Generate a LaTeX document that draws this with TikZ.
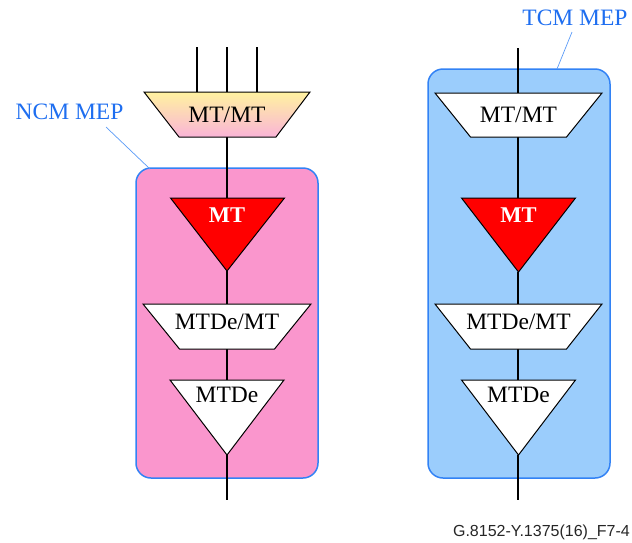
\documentclass[tikz,border=0pt]{standalone}
\usepackage{fontspec}
\setmainfont{Liberation Serif}
\newfontfamily\capfont{Liberation Sans}
\definecolor{boxblue}{RGB}{50,130,245}
\definecolor{txtblue}{RGB}{30,110,240}
\definecolor{pinkfill}{RGB}{250,150,205}
\definecolor{bluefill}{RGB}{155,205,252}
\definecolor{gradtop}{RGB}{255,242,160}
\definecolor{gradbot}{RGB}{250,180,215}
\begin{document}
\begin{tikzpicture}[x=1pt,y=-1pt,
  mepbox/.style={draw=boxblue,line width=1.5pt,rounded corners=15pt},
  fshape/.style={draw=black,line width=1pt,line join=miter},
  wire/.style={draw=black,line width=1.1pt},
  lbl/.style={inner sep=0pt,font=\fontsize{23.5}{26}\selectfont},
  blbl/.style={inner sep=0pt,text=white,font=\fontsize{22.5}{26}\selectfont\bfseries},
  meplbl/.style={inner sep=0pt,text=txtblue,font=\fontsize{23.5}{26}\selectfont},
  leader/.style={draw=boxblue!80,line width=0.7pt}]
\useasboundingbox (0,0) rectangle (632,542);
% boxes
\path[mepbox,fill=pinkfill] (136,168) rectangle (318,478);
\path[mepbox,fill=bluefill] (428,69) rectangle (610,478);
% labels
\node[meplbl] (ncm) at (69.5,112) {NCM MEP};
\node[meplbl] (tcm) at (575,18) {TCM MEP};
\coordinate (ncmA) at (106,127);
\coordinate (ncmB) at (150,169);
\coordinate (tcmA) at (572,32);
\coordinate (tcmB) at (557,69);
\draw[leader] (ncmA) -- (ncmB);
\draw[leader] (tcmA) -- (tcmB);
% left column coordinates
\coordinate (lin1) at (197,47);
\coordinate (lin2) at (227,47);
\coordinate (lin3) at (257,47);
\coordinate (lt1t1) at (197,92);
\coordinate (lt1t2) at (227,92);
\coordinate (lt1t3) at (257,92);
\coordinate (lt1b) at (227,137);
\coordinate (lmtt) at (227,198);
\coordinate (lmtb) at (227,271);
\coordinate (lt2t) at (227,304);
\coordinate (lt2b) at (227,349);
\coordinate (ldet) at (227,380);
\coordinate (ldeb) at (227,455);
\coordinate (lout) at (227,500);
\draw[wire] (lin1) -- (lt1t1);
\draw[wire] (lin2) -- (lt1t2);
\draw[wire] (lin3) -- (lt1t3);
\draw[wire] (lt1b) -- (lmtt);
\draw[wire] (lmtb) -- (lt2t);
\draw[wire] (lt2b) -- (ldet);
\draw[wire] (ldeb) -- (lout);
% left shapes
\path[fshape,top color=gradtop,bottom color=gradbot] (144,92) -- (310,92) -- (276,137) -- (179,137) -- cycle;
\path[fshape,fill=red] (170.5,198) -- (284.5,198) -- (227,271) -- cycle;
\path[fshape,fill=white] (143,304) -- (311,304) -- (274.5,349) -- (179.5,349) -- cycle;
\path[fshape,fill=white] (170,380) -- (284,380) -- (227,455) -- cycle;
\node[lbl] (lmtmt) at (227,115) {MT/MT};
\node[blbl] (lmt) at (227,215) {MT};
\node[lbl] (lmtdemt) at (227,322) {MTDe/MT};
\node[lbl] (lmtde) at (227,395) {MTDe};
% right column coordinates
\coordinate (rin) at (518,48);
\coordinate (rt1t) at (518,93);
\coordinate (rt1b) at (518,137);
\coordinate (rmtt) at (518,198);
\coordinate (rmtb) at (518,272);
\coordinate (rt2t) at (518,304);
\coordinate (rt2b) at (518,349);
\coordinate (rdet) at (518,380);
\coordinate (rdeb) at (518,455);
\coordinate (rout) at (518,500);
\draw[wire] (rin) -- (rt1t);
\draw[wire] (rt1b) -- (rmtt);
\draw[wire] (rmtb) -- (rt2t);
\draw[wire] (rt2b) -- (rdet);
\draw[wire] (rdeb) -- (rout);
\path[fshape,fill=white] (435,93) -- (602,93) -- (566.5,137) -- (470.5,137) -- cycle;
\path[fshape,fill=red] (461.5,198) -- (575.5,198) -- (518.5,272) -- cycle;
\path[fshape,fill=white] (435,304) -- (602,304) -- (566.5,349) -- (470.5,349) -- cycle;
\path[fshape,fill=white] (461.5,380) -- (575.5,380) -- (518.5,455) -- cycle;
\node[lbl] (rmtmt) at (518.5,115) {MT/MT};
\node[blbl] (rmt) at (518.5,215) {MT};
\node[lbl] (rmtdemt) at (518.5,322) {MTDe/MT};
\node[lbl] (rmtde) at (518.5,395) {MTDe};
% caption
\node[inner sep=0pt,anchor=east,font=\capfont\fontsize{16}{18}\selectfont,text=black!85] (cap) at (630,532) {G.8152-Y.1375(16)\_F7-4};
\end{tikzpicture}
\end{document}
